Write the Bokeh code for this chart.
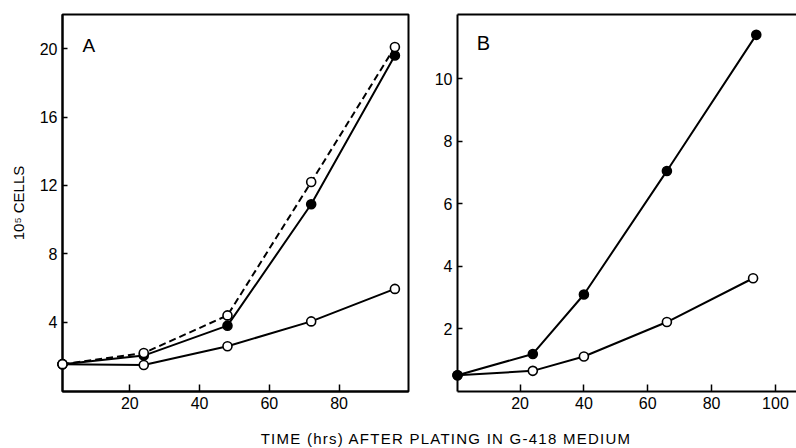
from bokeh.plotting import figure
from bokeh.layouts import row, column
from bokeh.models import Div, Label, FixedTicker, LinearAxis, Range1d
from bokeh.embed import file_html
from bokeh.resources import INLINE

# ---------------- data ----------------
# Panel A
a_time = [0.7, 24, 48, 72, 96]
a_dashed_open = [1.55, 2.2, 4.4, 12.2, 20.1]
a_filled = [1.55, 2.05, 3.8, 10.9, 19.6]
a_open = [1.55, 1.5, 2.6, 4.05, 5.95]
a_xticks = [20, 40, 60, 80]
a_yticks = [4, 8, 12, 16, 20]

# Panel B
b_time_filled = [0.4, 24, 40, 66, 94]
b_filled = [0.52, 1.2, 3.1, 7.05, 11.4]
b_time_open = [0.4, 24, 40, 66, 93]
b_open = [0.52, 0.66, 1.12, 2.22, 3.62]
b_xticks = [20, 40, 60, 80, 100]
b_yticks = [2, 4, 6, 8, 10]

x_title = "TIME (hrs) AFTER PLATING IN G-418 MEDIUM"
y_title = "10\u2075 CELLS"

FONT = "Liberation Sans"


def style_axes(p, xticks, yticks):
    p.grid.visible = False
    p.background_fill_color = "white"
    p.border_fill_color = "white"
    for ax in (p.xaxis[0], p.yaxis[0]):
        ax.axis_line_width = 2
        ax.axis_line_color = "black"
        ax.major_tick_line_width = 1.5
        ax.major_tick_line_color = "black"
        ax.major_tick_out = 0
        ax.minor_tick_line_color = None
        ax.major_label_text_font = FONT
        ax.major_label_text_font_size = "16px"
        ax.major_label_text_color = "black"
    p.xaxis[0].ticker = FixedTicker(ticks=xticks)
    p.yaxis[0].ticker = FixedTicker(ticks=yticks)
    p.xaxis[0].major_tick_in = 7
    p.yaxis[0].major_tick_in = 5
    p.xaxis[0].major_label_standoff = 5
    p.yaxis[0].major_label_standoff = 5


def series(p, x, y, dash="solid"):
    p.line(x, y, line_color="black", line_width=2, line_dash=dash)


def markers(p, x, y, filled):
    r = p.scatter(x, y, marker="circle", size=9,
                  fill_color="black" if filled else "white",
                  line_color="black", line_width=1.6)
    r.level = "overlay"


# ---------------- panel A ----------------
pA = figure(width=420, height=418,
            x_range=Range1d(0.7, 99.9), y_range=Range1d(-0.05, 22),
            output_backend="svg", toolbar_location=None,
            min_border_left=62, min_border_right=12,
            min_border_top=11, min_border_bottom=27)
style_axes(pA, a_xticks, a_yticks)
pA.outline_line_color = "black"
pA.outline_line_width = 2
pA.outline_line_alpha = 1
pA.yaxis[0].axis_label = y_title
pA.yaxis[0].axis_label_text_font = FONT
pA.yaxis[0].axis_label_text_font_size = "15px"
pA.yaxis[0].axis_label_text_font_style = "normal"
pA.yaxis[0].axis_label_text_color = "black"
pA.yaxis[0].axis_label_standoff = 10

series(pA, a_time, a_open)
series(pA, a_time, a_filled)
series(pA, a_time, a_dashed_open, dash="7 4")
markers(pA, a_time, a_open, False)
markers(pA, a_time, a_filled, True)
markers(pA, a_time, a_dashed_open, False)

pA.add_layout(Label(x=6.4, y=20.2, text="A", text_font=FONT,
                    text_font_size="19px", text_color="black",
                    text_baseline="alphabetic"))

# ---------------- panel B ----------------
pB = figure(width=376, height=418,
            x_range=Range1d(0.4, 106.6), y_range=Range1d(0, 12.05),
            output_backend="svg", toolbar_location=None,
            min_border_left=37, min_border_right=0,
            min_border_top=14, min_border_bottom=25)
style_axes(pB, b_xticks, b_yticks)
pB.outline_line_color = None
top_axis = LinearAxis(ticker=FixedTicker(ticks=[]), axis_line_width=2,
                      axis_line_color="black", major_tick_out=0,
                      major_tick_in=0, major_label_standoff=0,
                      minor_tick_line_color=None)
pB.add_layout(top_axis, "above")

series(pB, b_time_open, b_open)
series(pB, b_time_filled, b_filled)
markers(pB, b_time_open, b_open, False)
markers(pB, b_time_filled, b_filled, True)

pB.add_layout(Label(x=6.4, y=11.13, text="B", text_font=FONT,
                    text_font_size="20px", text_color="black",
                    text_baseline="alphabetic"))

# ---------------- shared x title ----------------
title = Div(
    text=('<div style="position:relative; left:48px; top:12px; width:796px; '
          'text-align:center; white-space:nowrap; font-family:\'Liberation Sans\'; '
          'font-size:15px; line-height:17px; letter-spacing:1.25px; color:black;">'
          + x_title + '</div>'),
    width=796, height=30, margin=0)

layout = column(row(pA, pB), title)

open("out.html", "w").write(file_html(layout, INLINE))
